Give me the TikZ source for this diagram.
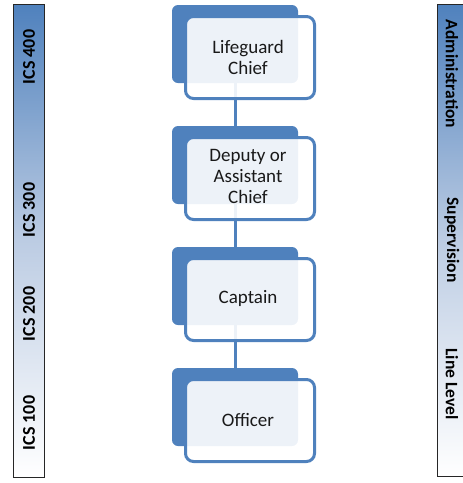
\documentclass[tikz,border=0pt]{standalone}
\usepackage{fontspec}
\setmainfont{Carlito}
\definecolor{ablue}{HTML}{4F81BD}
\definecolor{midblue}{HTML}{BCCCE3}
\tikzset{
  sidebar/.style={draw=black!85, line width=0.8pt},
  backbox/.style={fill=ablue, draw=none, rounded corners=6pt, minimum width=126pt, minimum height=78pt, inner sep=0pt},
  frontbox/.style={fill=white, fill opacity=0.9, draw=ablue, line width=3pt, rounded corners=8pt, minimum width=129pt, minimum height=82pt, inner sep=0pt},
  conn/.style={draw=ablue, line width=3pt},
  boxtext/.style={align=center, font=\fontsize{19}{21}\selectfont, text=black!90},
  leftlab/.style={rotate=90, font=\bfseries\fontsize{18}{20}\selectfont},
  rightlab/.style={rotate=-90, font=\bfseries\fontsize{17.5}{20}\selectfont}
}
\begin{document}
\begin{tikzpicture}[x=1pt,y=-1pt]
\useasboundingbox (0,0) rectangle (463,483);
% side bars
\shade[top color=ablue, bottom color=white, middle color=midblue] (13,4) rectangle (44,477);
\draw[sidebar] (13,4) rectangle (44,477);
\shade[top color=ablue, bottom color=white, middle color=midblue] (437,4) rectangle (468,476);
\draw[sidebar] (437,4) rectangle (468,476);
\node[leftlab] (l1) at (29,57) {ICS 400};
\node[leftlab] (l2) at (29,210) {ICS 300};
\node[leftlab] (l3) at (29,314) {ICS 200};
\node[leftlab] (l4) at (29,423) {ICS 100};
\node[rightlab] (r1) at (452,74) {Administration};
\node[rightlab] (r2) at (452,240) {Supervision};
\node[rightlab] (r3) at (452,384) {Line Level};
% back boxes
\node[backbox] (b1) at (235,44) {};
\node[backbox] (b2) at (235,165) {};
\node[backbox] (b3) at (235,286) {};
\node[backbox] (b4) at (235,407) {};
% connectors
\draw[conn] (b1.center) -- (b2.center);
\draw[conn] (b2.center) -- (b3.center);
\draw[conn] (b3.center) -- (b4.center);
% front boxes
\node[frontbox] (f1) at (250,57.5) {};
\node[frontbox] (f2) at (250,178.5) {};
\node[frontbox] (f3) at (250,299.5) {};
\node[frontbox] (f4) at (250,420.5) {};
% texts
\node[boxtext] (t1) at (248,57) {Lifeguard\\Chief};
\node[boxtext] (t2) at (248,176) {Deputy or\\Assistant\\Chief};
\node[boxtext] (t3) at (248,298) {Captain};
\node[boxtext] (t4) at (248,420) {Officer};
\end{tikzpicture}
\end{document}
